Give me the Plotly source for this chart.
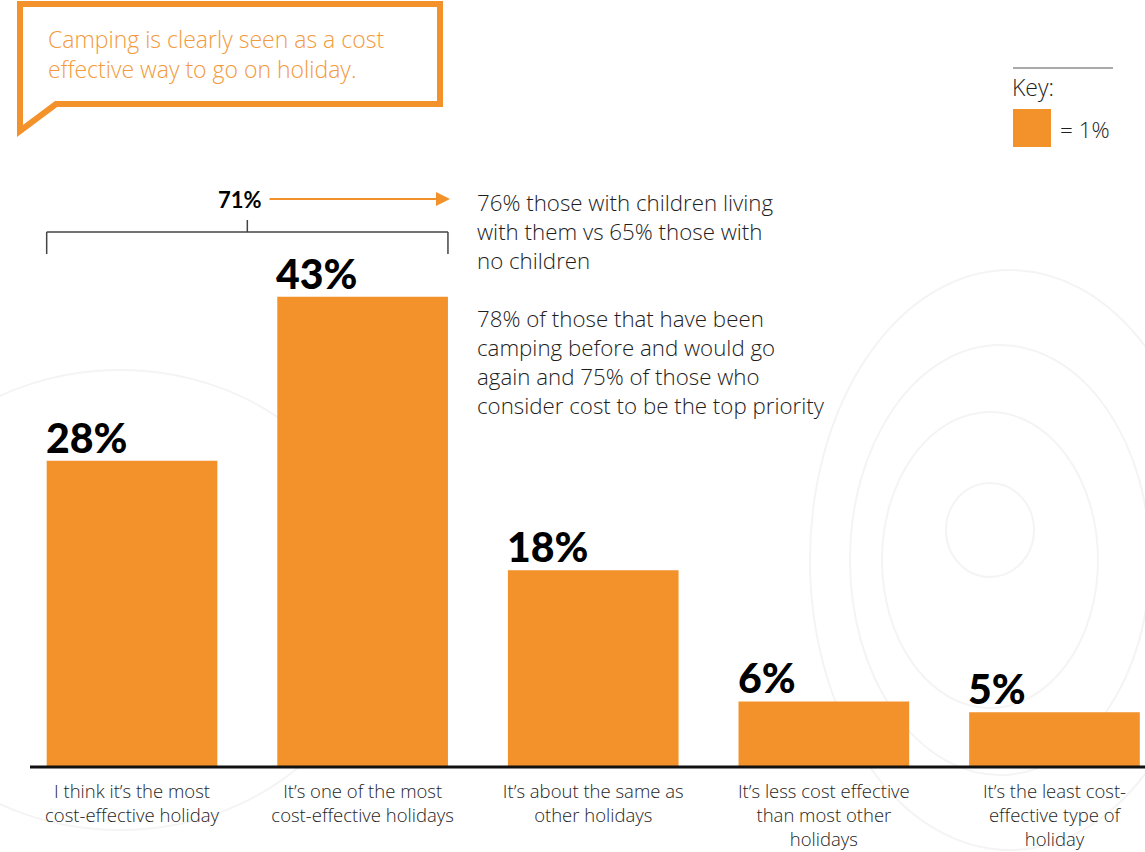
import plotly.graph_objects as go

# Survey answers and their shares (%)
categories = [
    "I think it’s the most<br>cost-effective holiday",
    "It’s one of the most<br>cost-effective holidays",
    "It’s about the same as<br>other holidays",
    "It’s less cost effective<br>than most other<br>holidays",
    "It’s the least cost-<br>effective type of<br>holiday",
]
values = [28, 43, 18, 6, 5]
combined_label = "71%"
headline_lines = ["Camping is clearly seen as a cost", "effective way to go on holiday."]
side_note_lines = [
    "76% those with children living",
    "with them vs 65% those with",
    "no children",
    "",
    "78% of those that have been",
    "camping before and would go",
    "again and 75% of those who",
    "consider cost to be the top priority",
]
key_title = "Key:"
key_text = "= 1%"

ORANGE = "#F3912A"
INK = "#1e1e1e"
BODY = "Open Sans"
W, H = 1145, 852
TOP, BASE = 111, 767          # plot area top / baseline in pixels
BAR_W = 0.74


def px(x):
    return x / W


def py(y):
    return (BASE - y) / (BASE - TOP)


fig = go.Figure()
fig.add_trace(go.Bar(
    x=list(range(len(values))), y=values, width=BAR_W,
    marker=dict(color=ORANGE, line=dict(width=0)),
    hoverinfo="skip",
))

shapes = []
annotations = []

# faint contour-line backdrop
contours = [
    (990, 530, 44, 47), (990, 560, 108, 148), (1000, 560, 150, 215),
    (1010, 560, 200, 290), (120, 600, 260, 230),
]
for cx, cy, rx, ry in contours:
    shapes.append(dict(type="circle", xref="paper", yref="paper",
                       x0=px(cx - rx), x1=px(cx + rx), y0=py(cy + ry), y1=py(cy - ry),
                       line=dict(color="#f4f4f4", width=2), layer="below"))

# baseline
shapes.append(dict(type="line", xref="paper", yref="paper",
                   x0=px(30), x1=1, y0=py(BASE), y1=py(BASE),
                   line=dict(color="#111111", width=3)))

# percentage labels sitting on the left edge of each bar
for i, v in enumerate(values):
    annotations.append(dict(
        x=i - BAR_W / 2, y=v, xref="x", yref="y", xanchor="left", yanchor="bottom",
        text=f"{v}%", showarrow=False, xshift=-3, yshift=-3,
        font=dict(family="Lato", size=41, color="#000000", weight=900),
    ))

# bracket over the first two bars
bl, br = 0 - BAR_W / 2, 1 + BAR_W / 2
bmid = (bl + br) / 2
yb = py(232)
for seg in [(bl, br, yb, yb), (bl, bl, yb, py(254)), (br, br, yb, py(254)),
            (bmid, bmid, yb, py(220))]:
    shapes.append(dict(type="line", xref="x", yref="paper",
                       x0=seg[0], x1=seg[1], y0=seg[2], y1=seg[3],
                       line=dict(color="#444444", width=1.5)))
annotations.append(dict(
    x=bmid, y=py(199), xref="x", yref="paper", text=f"<b>{combined_label}</b>",
    showarrow=False, xanchor="center", yanchor="middle", xshift=-7,
    font=dict(family="Lato", size=22, color="#000000", weight=900),
))
annotations.append(dict(
    x=px(450), y=py(199), ax=-182, ay=0, xref="paper", yref="paper",
    axref="pixel", ayref="pixel", text="", showarrow=True,
    arrowhead=2, arrowsize=1.4, arrowwidth=2, arrowcolor=ORANGE,
))

# side commentary
annotations.append(dict(
    x=px(475), y=py(185), xref="paper", yref="paper",
    xanchor="left", yanchor="top", align="left", showarrow=False,
    text="<br>".join(side_note_lines),
    font=dict(family=BODY, size=22.3, color=INK, weight=300),
))

# speech-bubble headline
bubble = (f"M {px(20)},{py(131)} L {px(20)},{py(4)} L {px(440)},{py(4)} "
          f"L {px(440)},{py(104)} L {px(56)},{py(104)} Z")
shapes.append(dict(type="path", xref="paper", yref="paper", path=bubble,
                   line=dict(color=ORANGE, width=6), fillcolor="white"))
annotations.append(dict(
    x=px(46), y=py(21), xref="paper", yref="paper",
    xanchor="left", yanchor="top", align="left", showarrow=False,
    text="<br>".join(headline_lines),
    font=dict(family=BODY, size=23, color="#F39A3C", weight=300),
))

# key
shapes.append(dict(type="line", xref="paper", yref="paper",
                   x0=px(1013), x1=px(1113), y0=py(68), y1=py(68),
                   line=dict(color="#555555", width=1)))
shapes.append(dict(type="rect", xref="paper", yref="paper",
                   x0=px(1013), x1=px(1051), y0=py(147), y1=py(109),
                   line=dict(width=0), fillcolor=ORANGE))
annotations.append(dict(
    x=px(1010), y=py(87), xref="paper", yref="paper", xanchor="left", yanchor="middle",
    text=key_title, showarrow=False, font=dict(family=BODY, size=23, color=INK, weight=300),
))
annotations.append(dict(
    x=px(1058), y=py(129), xref="paper", yref="paper", xanchor="left", yanchor="middle",
    text=key_text, showarrow=False, font=dict(family=BODY, size=22.5, color=INK, weight=300),
))

fig.update_layout(
    width=W, height=H,
    margin=dict(l=0, r=0, t=TOP, b=H - BASE, pad=0),
    paper_bgcolor="white", plot_bgcolor="rgba(0,0,0,0)",
    showlegend=False, shapes=shapes, annotations=annotations,
    xaxis=dict(
        tickmode="array", tickvals=list(range(len(values))), ticktext=categories,
        range=[-0.5724, 4.3925], showgrid=False, zeroline=False, showline=False,
        ticks="", ticklabelstandoff=11,
        tickfont=dict(family=BODY, size=18.5, color=INK, weight=300), automargin=False,
        fixedrange=True,
    ),
    yaxis=dict(range=[0, 60], visible=False, fixedrange=True),
    font=dict(family=BODY),
)

fig.write_html("out.html")
